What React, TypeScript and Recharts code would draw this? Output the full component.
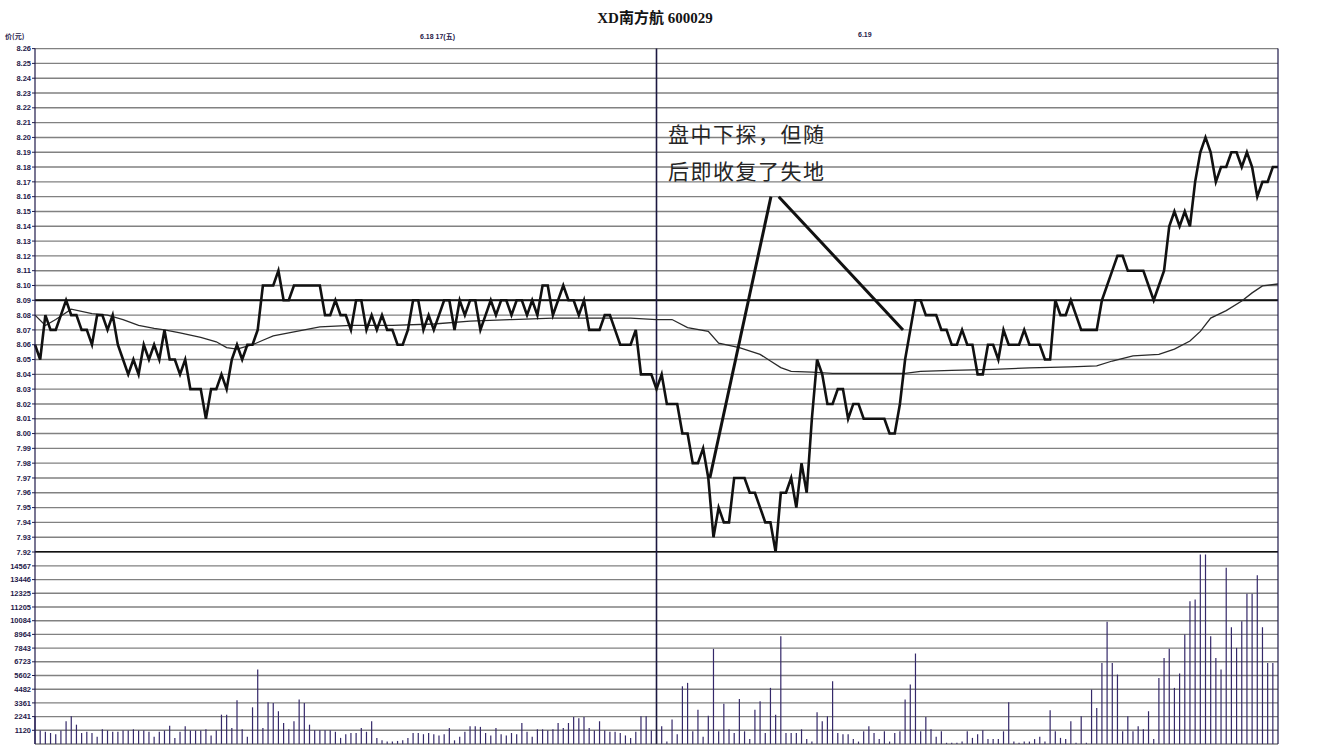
import React from 'react';
import { ComposedChart, Line, Bar, XAxis, YAxis, CartesianGrid, ReferenceLine } from 'recharts';

const TITLE = 'XD南方航 600029';
const ANNOT_LINE1 = '盘中下探，但随';
const ANNOT_LINE2 = '后即收复了失地';
const DATE_LEFT = '6.18 17(五)';
const DATE_RIGHT = '6.19';
const UNIT_LABEL = '价(元)';

const PREV_CLOSE = 8.09;
const SPLIT_K = 120;

const priceLabels = ['8.26','8.25','8.24','8.23','8.22','8.21','8.20','8.19','8.18','8.17','8.16','8.15','8.14','8.13','8.12','8.11','8.10','8.09','8.08','8.07','8.06','8.05','8.04','8.03','8.02','8.01','8.00','7.99','7.98','7.97','7.96','7.95','7.94','7.93','7.92'];
const pctLabels = ['2.10%','1.98%','1.86%','1.73%','1.61%','1.48%','1.36%','1.24%','1.11%','0.99%','0.87%','0.74%','0.62%','0.50%','0.38%','0.25%','0.12%','0.00%','0.12%','0.24%','0.37%','0.49%','0.62%','0.74%','0.86%','0.99%','1.11%','1.24%','1.36%','1.48%','1.60%','1.73%','1.85%','1.97%','2.10%'];
const volTicks = [1120, 2241, 3361, 4482, 5602, 6723, 7843, 8964, 10084, 11205, 12325, 13446, 14567];
const volLabels = ['1120','2241','3361','4482','5602','6723','7843','8964','10084','11205','12325','13446','14567'];

const day1Price = [
  8.06,8.05,8.08,8.07,8.07,8.08,8.09,8.08,8.08,8.07,
  8.07,8.06,8.08,8.08,8.07,8.08,8.06,8.05,8.04,8.05,
  8.04,8.06,8.05,8.06,8.05,8.07,8.05,8.05,8.04,8.05,
  8.03,8.03,8.03,8.01,8.03,8.03,8.04,8.03,8.05,8.06,
  8.05,8.06,8.06,8.07,8.10,8.10,8.10,8.11,8.09,8.09,
  8.10,8.10,8.10,8.10,8.10,8.10,8.08,8.08,8.09,8.08,
  8.08,8.07,8.09,8.09,8.07,8.08,8.07,8.08,8.07,8.07,
  8.06,8.06,8.07,8.09,8.09,8.07,8.08,8.07,8.08,8.09,
  8.09,8.07,8.09,8.08,8.09,8.09,8.07,8.08,8.09,8.08,
  8.09,8.09,8.08,8.09,8.09,8.08,8.09,8.08,8.10,8.10,
  8.08,8.09,8.10,8.09,8.09,8.08,8.09,8.07,8.07,8.07,
  8.08,8.08,8.07,8.06,8.06,8.06,8.07,8.04,8.04,8.04,
];
const day2Price = [
  8.03,8.04,8.02,8.02,8.02,8.00,8.00,7.98,7.98,7.99,
  7.97,7.93,7.95,7.94,7.94,7.97,7.97,7.97,7.96,7.96,
  7.95,7.94,7.94,7.92,7.96,7.96,7.97,7.95,7.98,7.96,
  8.01,8.05,8.04,8.02,8.02,8.03,8.03,8.01,8.02,8.02,
  8.01,8.01,8.01,8.01,8.01,8.00,8.00,8.02,8.05,8.07,
  8.09,8.09,8.08,8.08,8.08,8.07,8.07,8.06,8.06,8.07,
  8.06,8.06,8.04,8.04,8.06,8.06,8.05,8.07,8.06,8.06,
  8.06,8.07,8.06,8.06,8.06,8.05,8.05,8.09,8.08,8.08,
  8.09,8.08,8.07,8.07,8.07,8.07,8.09,8.10,8.11,8.12,
  8.12,8.11,8.11,8.11,8.11,8.10,8.09,8.10,8.11,8.14,
  8.15,8.14,8.15,8.14,8.17,8.19,8.20,8.19,8.17,8.18,
  8.18,8.19,8.19,8.18,8.19,8.18,8.16,8.17,8.17,8.18,
  8.18,
];

const avgK = [0,2,4,7,11,14,17,20,23,25,28,32,35,37,39,40,42,44,46,49,52,55,61,69,77,84,92,100,108,115,120,123,126,130,132,136,140,142,144,146,150,154,165,168,171,177,185,192,200,205,208,212,217,220,223,225,227,230,233,235,237,240];
const avgV = [8.080,8.073,8.077,8.084,8.081,8.080,8.077,8.073,8.071,8.070,8.068,8.065,8.062,8.058,8.057,8.058,8.060,8.063,8.066,8.068,8.070,8.072,8.073,8.073,8.074,8.076,8.077,8.078,8.078,8.078,8.077,8.077,8.0715,8.069,8.061,8.058,8.0535,8.049,8.0445,8.042,8.0415,8.0407,8.0407,8.0407,8.042,8.0427,8.0434,8.0443,8.045,8.0457,8.049,8.0524,8.0535,8.057,8.0625,8.069,8.078,8.083,8.0895,8.095,8.0997,8.101];

const day1Vol = [
  2270,1100,1000,900,800,1100,1860,2270,1580,900,
  1000,900,600,1200,1100,1000,1000,1100,1100,1200,
  1100,1100,1000,600,1000,1100,1500,500,1000,1450,
  1100,1100,1100,1200,700,1100,2400,2400,1300,3580,
  1200,600,3000,6090,1300,3410,3360,2680,1720,1200,
  1860,3630,3360,1580,1120,1120,1120,1120,1000,500,
  800,900,900,1300,1000,1860,500,300,200,200,
  250,300,500,900,900,800,900,800,700,800,
  1300,300,600,1000,1450,1450,1400,900,700,1300,
  800,700,900,800,1720,1000,600,1200,1200,1100,
  1200,1720,1300,1720,2210,2100,2210,1300,1100,1860,
  1100,1000,1000,900,700,500,1000,2270,2270,1100,
];
const day2Vol = [
  1040,1450,200,2000,800,4720,5000,1040,2810,600,
  2320,7780,1040,3300,1200,900,3690,1040,400,2810,
  3490,900,4590,2400,8820,900,900,900,1200,400,
  200,2590,1860,2270,5130,900,800,800,400,200,
  1040,1450,900,400,1040,200,900,1040,3630,4860,
  7400,1040,2210,1200,600,1040,100,100,100,200,
  1040,500,800,1120,400,400,400,1040,3410,200,
  100,200,200,400,600,200,2760,1040,500,400,
  1860,100,2270,100,4450,2950,6630,9990,6630,5680,
  1040,2270,1040,1450,1200,2680,400,5400,7040,7780,
  4590,5760,8950,11680,11820,15500,15500,8820,7040,6090,
  14410,9550,7860,10040,12280,12280,13810,9550,6630,6630,
];

const priceTicks = priceLabels.map(Number);
const avgMap: Record<number, number> = {};
avgK.forEach((k, i) => { avgMap[k] = avgV[i]; });

const rows = Array.from({ length: 241 }, (_, k) => ({
  k,
  price: k < SPLIT_K ? day1Price[k] : day2Price[k - SPLIT_K],
  avg: avgMap[k] !== undefined ? avgMap[k] : null,
  vol: k < SPLIT_K ? day1Vol[k] : (k - SPLIT_K < day2Vol.length ? day2Vol[k - SPLIT_K] : null),
}));

const AXIS_COLOR = '#1f1a4a';
const GRID_COLOR = '#818181';
const TICK_STYLE = { fontSize: 7.5, fontWeight: 700, fill: '#1f1a4a', fontFamily: '"Liberation Sans", Arial, sans-serif' };
const VOL_MAX = 15703;

const pctFor = (v: number) => {
  const i = priceTicks.findIndex((t) => Math.abs(t - v) < 1e-6);
  return i >= 0 ? pctLabels[i] : '';
};
const volFor = (v: number) => {
  const i = volTicks.findIndex((t) => Math.abs(t - v) < 1e-6);
  return i >= 0 ? volLabels[i] : '';
};

export default function App() {
  return (
    <div style={{ position: 'fixed', left: 0, top: 0, width: 1320, height: 754, background: '#ffffff', overflow: 'hidden' }}>
      <div style={{ position: 'absolute', left: 0, top: 0 }}>
        <ComposedChart width={1320} height={560} data={rows} margin={{ top: 48.6, right: 0, bottom: 8, left: 0 }}>
          <CartesianGrid vertical={false} stroke={GRID_COLOR} strokeWidth={1.4} />
          <XAxis type="number" dataKey="k" domain={[0, 240]} hide />
          <YAxis
            width={35}
            domain={[7.92, 8.26]}
            ticks={priceTicks}
            interval={0}
            tickFormatter={(v: number) => v.toFixed(2)}
            tick={TICK_STYLE}
            tickSize={3}
            tickMargin={1}
            axisLine={{ stroke: AXIS_COLOR, strokeWidth: 1.2 }}
            tickLine={{ stroke: AXIS_COLOR }}
          />
          <YAxis
            yAxisId="r"
            orientation="right"
            width={42}
            domain={[7.92, 8.26]}
            ticks={priceTicks}
            interval={0}
            tickFormatter={pctFor}
            tick={{ ...TICK_STYLE, textAnchor: 'start' }}
            tickSize={3}
            tickMargin={1}
            axisLine={{ stroke: AXIS_COLOR, strokeWidth: 1.2 }}
            tickLine={{ stroke: AXIS_COLOR }}
          />
          <ReferenceLine y={PREV_CLOSE} stroke="#111" strokeWidth={2} />
          <ReferenceLine y={7.92} stroke="#111" strokeWidth={2} />
          <ReferenceLine x={SPLIT_K} stroke="#1c1840" strokeWidth={1.6} />
          <Line type="linear" dataKey="avg" stroke="#2a2a2a" strokeWidth={1.3} dot={false} connectNulls isAnimationActive={false} />
          <Line type="linear" dataKey="price" stroke="#111111" strokeWidth={2.6} dot={false} isAnimationActive={false} />
          <ReferenceLine segment={[{ x: 130.3, y: 7.970 }, { x: 142.1, y: 8.160 }]} stroke="#111" strokeWidth={3} ifOverflow="visible" />
          <ReferenceLine segment={[{ x: 143.6, y: 8.160 }, { x: 167.6, y: 8.070 }]} stroke="#111" strokeWidth={3} ifOverflow="visible" />
        </ComposedChart>
      </div>
      <div style={{ position: 'absolute', left: 0, top: 552 }}>
        <ComposedChart width={1320} height={202} data={rows} margin={{ top: 0, right: 0, bottom: 10, left: 0 }}>
          <CartesianGrid vertical={false} stroke={GRID_COLOR} strokeWidth={1.4} />
          <XAxis type="number" dataKey="k" domain={[0, 240]} hide />
          <YAxis
            width={35}
            domain={[0, VOL_MAX]}
            ticks={volTicks}
            interval={0}
            tickFormatter={volFor}
            tick={TICK_STYLE}
            tickSize={3}
            tickMargin={1}
            axisLine={{ stroke: AXIS_COLOR, strokeWidth: 1.2 }}
            tickLine={{ stroke: AXIS_COLOR }}
          />
          <YAxis
            yAxisId="r"
            orientation="right"
            width={42}
            domain={[0, VOL_MAX]}
            ticks={volTicks}
            interval={0}
            tick={false}
            tickSize={3}
            axisLine={{ stroke: AXIS_COLOR, strokeWidth: 1.2 }}
            tickLine={{ stroke: AXIS_COLOR }}
          />
          <ReferenceLine x={SPLIT_K} stroke="#1c1840" strokeWidth={1.6} />
          <Bar dataKey="vol" fill="#35296a" barSize={1.2} isAnimationActive={false} />
        </ComposedChart>
      </div>
      <div style={{ position: 'absolute', left: 0, width: 1320, top: 6, textAlign: 'center' }}>
        <span style={{ fontFamily: '"Liberation Serif", "Noto Sans CJK SC", serif', fontWeight: 700, fontSize: 15, color: '#141414', marginLeft: -10 }}>{TITLE}</span>
      </div>
      <div style={{ position: 'absolute', left: 5, top: 31, fontFamily: '"Noto Sans CJK SC", sans-serif', fontSize: 7, fontWeight: 700, color: '#1f1a4a' }}>{UNIT_LABEL}</div>
      <div style={{ position: 'absolute', left: 420, top: 31, fontFamily: '"Liberation Sans", "Noto Sans CJK SC", sans-serif', fontSize: 7, fontWeight: 700, color: '#1f1a4a' }}>{DATE_LEFT}</div>
      <div style={{ position: 'absolute', left: 858, top: 31, fontFamily: '"Liberation Sans", sans-serif', fontSize: 7, fontWeight: 700, color: '#1f1a4a' }}>{DATE_RIGHT}</div>
      <div style={{ position: 'absolute', left: 668, top: 118, fontFamily: '"Noto Sans CJK SC", sans-serif', fontSize: 21, letterSpacing: 1.5, color: '#262626', whiteSpace: 'nowrap', lineHeight: '30px' }}>{ANNOT_LINE1}</div>
      <div style={{ position: 'absolute', left: 668, top: 155, fontFamily: '"Noto Sans CJK SC", sans-serif', fontSize: 21, letterSpacing: 1.5, color: '#262626', whiteSpace: 'nowrap', lineHeight: '30px' }}>{ANNOT_LINE2}</div>
    </div>
  );
}
